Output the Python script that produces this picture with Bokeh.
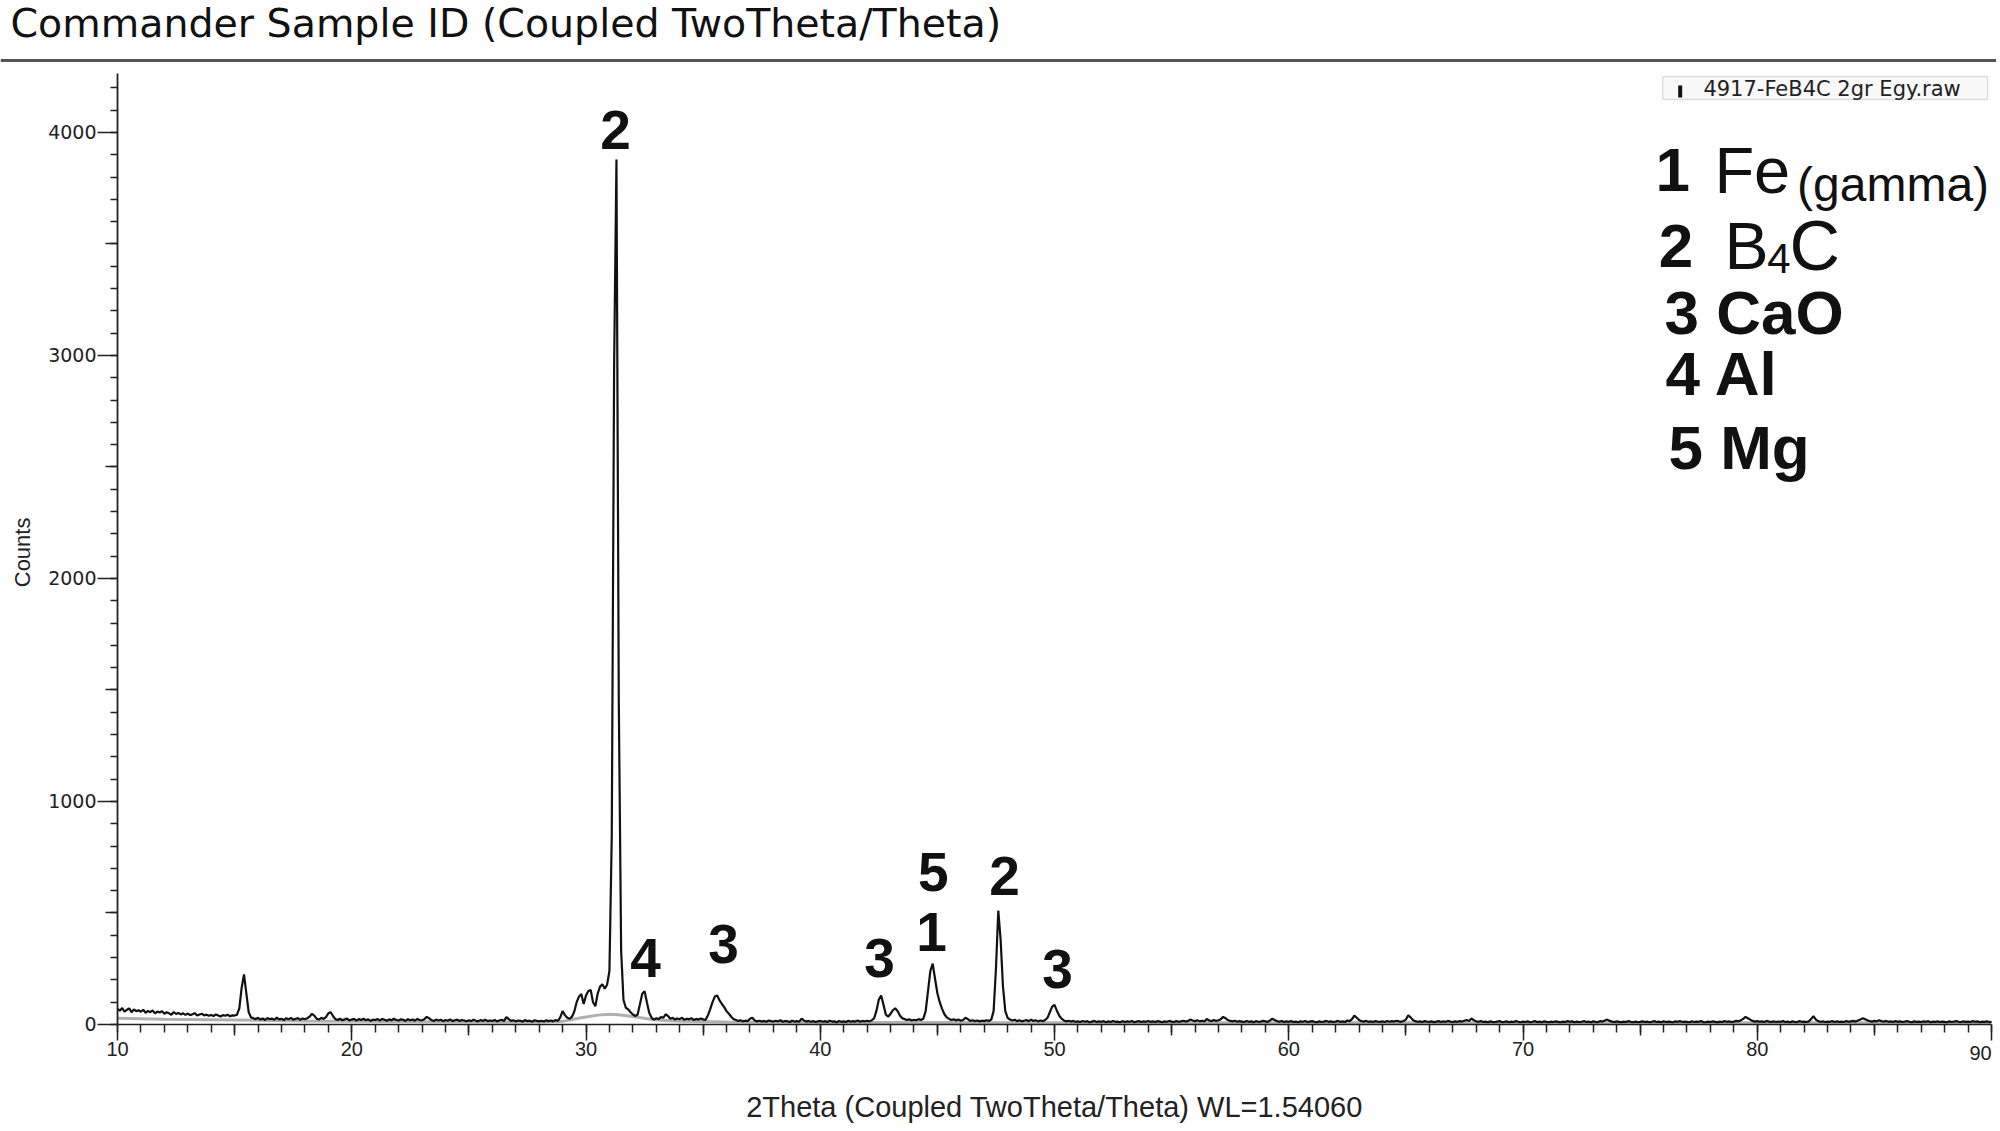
import numpy as np
from bokeh.plotting import figure
from bokeh.models import (Range1d, LinearAxis, SingleIntervalTicker, FixedTicker,
                          Label, Span, BoxAnnotation, ColumnDataSource)
from bokeh.core.properties import value
from bokeh.embed import file_html
from bokeh.resources import INLINE

# ---------------- data ----------------
two_theta_start = 10.0   # deg, scan start
two_theta_step = 0.1     # deg, scan step
counts = [
    70, 62, 74, 58, 66, 72, 55, 68, 60, 64,      # 10
    57, 66, 52, 61, 55, 63, 50, 58, 54, 60,      # 11
    48, 55, 50, 44, 56, 47, 52, 45, 50, 43,      # 12
    49, 42, 46, 51, 40, 45, 48, 41, 44, 39,      # 13
    43, 38, 45, 40, 36, 42, 39, 44, 37, 41,      # 14
    40, 44, 72, 165, 225, 140, 55, 32, 28, 24,   # 15
    30, 22, 27, 20, 29, 24, 26, 21, 31, 23,      # 16
    26, 20, 28, 23, 30, 22, 25, 29, 21, 27,      # 17
    24, 28, 35, 48, 40, 26, 22, 30, 25, 33,      # 18
    50, 55, 38, 24, 20, 26, 19, 23, 27, 18,      # 19
    22, 25, 17, 24, 20, 26, 19, 23, 16, 22,      # 20
    20, 24, 18, 25, 21, 17, 23, 19, 26, 20,      # 21
    18, 23, 21, 16, 24, 19, 22, 17, 25, 20,      # 22
    19, 24, 34, 28, 20, 16, 22, 18, 21, 15,      # 23
    20, 17, 23, 15, 19, 22, 16, 20, 18, 14,      # 24
    19, 15, 21, 17, 14, 20, 16, 22, 15, 18,      # 25
    16, 20, 14, 18, 21, 15, 33, 24, 16, 19,      # 26
    14, 18, 16, 13, 20, 15, 17, 12, 19, 16,      # 27
    14, 17, 13, 19, 15, 18, 14, 20, 16, 32,      # 28
    60, 42, 30, 26, 34, 58, 100, 125, 137, 92,   # 29
    130, 150, 155, 100, 82, 140, 170, 180, 160, 178,  # 30
    240, 850, 2950, 3879, 1450, 330, 110, 75, 68, 55, # 31
    45, 38, 44, 90, 138, 149, 100, 52, 30, 22,   # 32
    28, 24, 33, 30, 46, 38, 26, 30, 22, 27,      # 33
    24, 30, 21, 26, 23, 28, 20, 25, 22, 27,      # 34
    23, 20, 40, 68, 100, 125, 130, 108, 92, 78,  # 35
    60, 48, 35, 24, 20, 16, 19, 14, 17, 15,      # 36
    26, 30, 18, 14, 17, 13, 16, 12, 18, 15,      # 37
    13, 17, 14, 19, 12, 16, 14, 11, 17, 13,      # 38
    15, 12, 26, 18, 13, 16, 12, 15, 11, 14,      # 39
    16, 12, 15, 11, 17, 13, 14, 10, 16, 12,      # 40
    14, 11, 17, 12, 15, 13, 18, 12, 16, 14,      # 41
    17, 14, 19, 28, 62, 112, 130, 88, 45, 35,    # 42
    48, 64, 73, 60, 40, 28, 24, 20, 23, 18,      # 43
    21, 19, 24, 20, 26, 60, 150, 240, 273, 205,  # 44
    140, 100, 70, 46, 32, 25, 20, 23, 18, 22,    # 45
    17, 20, 30, 24, 16, 19, 15, 18, 14, 17,      # 46
    15, 19, 16, 22, 60, 250, 511, 380, 170, 60,  # 47
    30, 22, 18, 21, 15, 19, 14, 17, 20, 15,      # 48
    22, 16, 19, 14, 18, 15, 20, 30, 55, 80,      # 49
    88, 62, 40, 26, 18, 14, 17, 13, 16, 12,      # 50
    14, 11, 16, 12, 15, 10, 13, 16, 11, 14,      # 51
    12, 15, 10, 14, 11, 16, 12, 13, 10, 15,      # 52
    11, 14, 12, 16, 10, 13, 15, 11, 14, 12,      # 53
    16, 12, 14, 11, 15, 13, 10, 14, 12, 16,      # 54
    13, 11, 15, 12, 14, 17, 13, 16, 22, 18,      # 55
    15, 19, 14, 17, 13, 25, 18, 15, 20, 16,      # 56
    19, 24, 34, 28, 20, 16, 14, 17, 12, 15,      # 57
    13, 11, 16, 12, 14, 10, 15, 12, 13, 16,      # 58
    14, 12, 18, 26, 20, 15, 12, 16, 11, 14,      # 59
    12, 15, 11, 13, 10, 14, 12, 16, 11, 13,      # 60
    15, 12, 10, 14, 11, 13, 16, 12, 14, 11,      # 61
    13, 16, 12, 14, 11, 18, 15, 24, 40, 30,      # 62
    20, 15, 13, 16, 12, 14, 11, 15, 13, 12,      # 63
    14, 11, 16, 12, 15, 13, 17, 14, 12, 16,      # 64
    22, 41, 32, 20, 15, 12, 14, 11, 15, 13,      # 65
    12, 14, 10, 13, 15, 11, 14, 12, 16, 13,      # 66
    11, 14, 12, 15, 13, 17, 20, 16, 27, 19,      # 67
    14, 12, 15, 11, 13, 10, 14, 12, 11, 13,      # 68
    15, 11, 12, 14, 10, 13, 11, 15, 12, 10,      # 69
    13, 11, 14, 10, 12, 15, 11, 13, 10, 14,      # 70
    12, 10, 13, 11, 14, 12, 10, 13, 11, 15,      # 71
    12, 14, 10, 13, 11, 12, 15, 11, 13, 10,      # 72
    14, 12, 11, 15, 13, 18, 22, 16, 13, 11,      # 73
    14, 12, 10, 13, 11, 15, 12, 10, 13, 11,      # 74
    12, 14, 11, 13, 10, 12, 15, 11, 13, 10,      # 75
    14, 11, 13, 12, 10, 14, 12, 15, 11, 13,      # 76
    12, 10, 14, 11, 13, 12, 15, 11, 10, 13,      # 77
    11, 14, 12, 10, 13, 11, 15, 12, 14, 11,      # 78
    13, 16, 14, 19, 25, 34, 28, 22, 16, 13,      # 79
    15, 12, 14, 11, 16, 13, 12, 14, 11, 13,      # 80
    12, 15, 11, 13, 10, 14, 12, 11, 15, 12,      # 81
    13, 11, 14, 25, 37, 22, 15, 12, 14, 11,      # 82
    13, 12, 15, 11, 14, 12, 13, 11, 15, 12,      # 83
    14, 16, 13, 18, 22, 28, 24, 19, 15, 13,      # 84
    16, 14, 19, 15, 13, 16, 12, 14, 11, 15,      # 85
    12, 14, 11, 13, 15, 12, 10, 14, 12, 13,      # 86
    11, 14, 12, 15, 10, 13, 12, 14, 11, 13,      # 87
    12, 10, 14, 11, 13, 15, 12, 11, 14, 12,      # 88
    13, 11, 15, 12, 14, 10, 13, 12, 14, 11,      # 89
    12,                                          # 90
]
two_theta = np.round(two_theta_start + two_theta_step * np.arange(len(counts)), 2)

# fitted background (grey curve)
bg_two_theta = [10, 12, 15, 18, 22, 26, 28, 29, 29.8, 30.5, 31.0, 31.5, 32.2, 33.0, 34.0, 36, 40, 45, 50, 60, 70, 80, 90]
bg_counts = [28, 24, 20, 16, 13, 11, 11, 14, 30, 42, 46, 43, 32, 20, 14, 11, 9, 9, 8, 8, 8, 8, 8]

# peak annotations (centre of each number)
peak_label_x = [31.26, 32.54, 35.87, 42.53, 44.83, 44.75, 47.87, 50.13]
peak_label_y = [4013, 300, 359, 300, 686, 417, 664, 247]
peak_labels = ["2", "4", "3", "3", "5", "1", "2", "3"]

x_ticks_mid = [15, 25, 35, 45, 55, 65, 75, 85]
y_ticks_mid = [500, 1500, 2500, 3500]

title_text = "Commander Sample ID (Coupled TwoTheta/Theta)"
x_title = "2Theta (Coupled TwoTheta/Theta) WL=1.54060"
y_title = "Counts"
file_label = "4917-FeB4C 2gr Egy.raw"

# ---------------- figure ----------------
W, H = 1996, 1128
p = figure(width=W, height=H, output_backend="svg", toolbar_location=None,
           title=None, x_axis_location=None, y_axis_location=None,
           x_range=Range1d(5.0053, 90.213), y_range=Range1d(-466.4, 4591.9),
           min_border=0, min_border_left=0, min_border_right=0,
           min_border_top=0, min_border_bottom=0)
p.outline_line_color = None
p.background_fill_color = "white"
p.border_fill_color = "white"
p.xgrid.visible = False
p.ygrid.visible = False

AXC = "#222222"

# x axis
xax = LinearAxis(fixed_location=0, bounds=(10, 90),
                 ticker=SingleIntervalTicker(interval=10, num_minor_ticks=10),
                 axis_line_color=AXC, axis_line_width=1.5,
                 major_tick_line_color=AXC, major_tick_line_width=1.5,
                 major_tick_out=16, major_tick_in=0,
                 minor_tick_line_color=AXC, minor_tick_line_width=1.5,
                 minor_tick_out=8, minor_tick_in=0,
                 major_label_standoff=2,
                 major_label_text_font="Liberation Sans",
                 major_label_text_font_size="20px",
                 major_label_text_color="#222222",
                 major_label_overrides={90: ""})
p.add_layout(xax, "below")
xmid = LinearAxis(fixed_location=0, bounds=(10, 90),
                  ticker=FixedTicker(ticks=x_ticks_mid, minor_ticks=[]),
                  axis_line_color=None, major_tick_line_color=AXC, major_tick_line_width=1.5,
                  major_tick_out=11, major_tick_in=0, minor_tick_line_color=None,
                  major_label_text_color=None)
p.add_layout(xmid, "below")

# y axis
yax = LinearAxis(fixed_location=10, bounds=(0, 4265),
                 ticker=SingleIntervalTicker(interval=1000, num_minor_ticks=10),
                 axis_line_color=AXC, axis_line_width=1.8,
                 major_tick_line_color=AXC, major_tick_line_width=1.5,
                 major_tick_out=20, major_tick_in=0,
                 minor_tick_line_color=AXC, minor_tick_line_width=1.5,
                 minor_tick_out=7, minor_tick_in=0,
                 major_label_standoff=1,
                 major_label_text_font="DejaVu Sans",
                 major_label_text_font_size="19px",
                 major_label_text_color="#222222")
p.add_layout(yax, "left")
ymid = LinearAxis(fixed_location=10, bounds=(0, 4265),
                  ticker=FixedTicker(ticks=y_ticks_mid, minor_ticks=[]),
                  axis_line_color=None, major_tick_line_color=AXC, major_tick_line_width=1.5,
                  major_tick_out=12, major_tick_in=0, minor_tick_line_color=None,
                  major_label_text_color=None)
p.add_layout(ymid, "left")

# background and data
p.line(bg_two_theta, bg_counts, line_color="#b0b0b0", line_width=3)
p.line(two_theta, counts, line_color="#111111", line_width=2.2)

# peak labels
src = ColumnDataSource(dict(x=peak_label_x, y=peak_label_y, t=peak_labels))
p.text(x="x", y="y", text="t", source=src, text_font=value("Liberation Sans"),
       text_font_style="bold", text_font_size="55px", text_align="center",
       text_baseline="middle", text_color="#111111")

def lab(x, y, text, size, font="Liberation Sans", style="normal", align="left",
        baseline="middle", color="#111111", angle=0):
    p.add_layout(Label(x=x, y=y, text=text, text_font=font, text_font_size=f"{size}px",
                       text_font_style=style, text_align=align, text_baseline=baseline,
                       text_color=color, angle=angle))

# title + rule
lab(5.432, 4489, title_text, 39.5, font="DejaVu Sans", color="#111111")
p.add_layout(Span(location=4323, dimension="width", line_color="#555555", line_width=3))

# axis titles
lab(50.0, -372, x_title, 29, align="center", color="#222222")
lab(5.944, 2117, y_title, 22, align="center", color="#222222", angle=np.pi / 2)
lab(89.53, -126, "90", 20, align="center", color="#222222")

# file legend box
p.add_layout(BoxAnnotation(left=75.96, right=89.83, top=4251, bottom=4148,
                           fill_color="#f8f8f8", fill_alpha=1.0, level="underlay",
                           line_color="#9a9a9a", line_width=1.5))
p.segment(x0=[76.71], y0=[4157], x1=[76.71], y1=[4211], line_color="#111111", line_width=4)
lab(77.70, 4197, file_label, 21, font="DejaVu Sans", color="#222222")

# phase legend
lab(75.66, 3830, "1", 62, style="bold")
lab(78.17, 3830, "Fe", 65)
lab(81.70, 3767, "(gamma)", 48)
lab(75.79, 3489, "2", 62, style="bold")
lab(78.60, 3489, "B", 66)
lab(80.43, 3435, "4", 42)
lab(81.38, 3489, "C", 70)
lab(76.04, 3193, "3 CaO", 62, style="bold")
lab(76.08, 2919, "4 Al", 62, style="bold")
lab(76.21, 2587, "5 Mg", 62, style="bold")

open("out.html", "w").write(file_html(p, INLINE))
